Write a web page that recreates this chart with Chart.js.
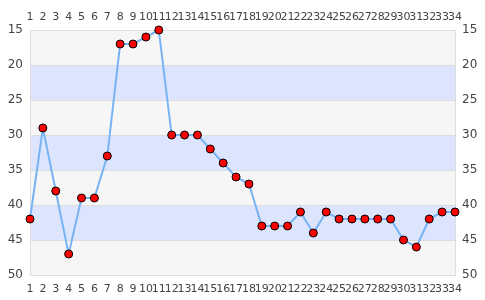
<!DOCTYPE html>
<html>
<head>
<meta charset="utf-8">
<script src="https://cdn.jsdelivr.net/npm/chart.js@4"></script>
<style>
  html, body { margin: 0; padding: 0; background: #fff; }
  #wrap { width: 485px; height: 300px; }
</style>
</head>
<body>
<div id="wrap"><canvas id="chart"></canvas></div>
<script>
const categories = ['1','2','3','4','5','6','7','8','9','10','11','12','13','14','15','16','17',
    '18','19','20','21','22','23','24','25','26','27','28','29','30','31','32','33','34'];
const values = [42, 29, 38, 47, 39, 39, 33, 17, 17, 16, 15, 30, 30, 30, 32, 34, 36,
    37, 43, 43, 43, 41, 44, 41, 42, 42, 42, 42, 42, 45, 46, 42, 41, 41];
const yMin = 15;
const yMax = 50;
const bandStep = 5;

// alternating background bands, drawn from the y scale
const bandPlugin = {
    id: 'bands',
    beforeDraw(chart) {
        const { ctx, chartArea } = chart;
        const y = chart.scales.y;
        ctx.save();
        let i = 0;
        for (let v = yMin; v < yMax; v += bandStep) {
            const top = y.getPixelForValue(v);
            const bottom = y.getPixelForValue(v + bandStep);
            ctx.fillStyle = i % 2 === 0 ? '#f6f6f6' : '#dde4fe';
            ctx.fillRect(chartArea.left, top, chartArea.right - chartArea.left, bottom - top);
            i++;
        }
        ctx.restore();
    }
};

const tickFont = { family: 'DejaVu Sans', size: 11 };
const tickColor = '#444';

const ctx = document.getElementById('chart').getContext('2d');
new Chart(ctx, {
    type: 'line',
    data: {
        labels: categories,
        datasets: [{
            data: values,
            borderColor: '#78b4f4',
            borderWidth: 2,
            pointBackgroundColor: '#ff0000',
            pointBorderColor: '#000',
            pointBorderWidth: 1,
            pointRadius: 4,
            tension: 0,
            clip: false,
        }]
    },
    plugins: [bandPlugin],
    options: {
        responsive: true,
        maintainAspectRatio: false,
        animation: false,
        layout: { padding: 0 },
        plugins: { legend: { display: false }, tooltip: { enabled: false } },
        scales: {
            x: {
                position: 'bottom',
                offset: false,
                grid: { drawOnChartArea: false, drawTicks: false },
                border: { color: '#ddd' },
                ticks: { autoSkip: false, maxRotation: 0, font: tickFont, color: tickColor, padding: 8 },
                afterFit(s) { s.height = 25; }
            },
            x2: {
                position: 'top',
                type: 'category',
                labels: categories,
                offset: false,
                grid: { drawOnChartArea: false, drawTicks: false },
                border: { color: '#ddd' },
                ticks: { autoSkip: false, maxRotation: 0, font: tickFont, color: tickColor, padding: 6 },
                afterFit(s) { s.height = 30; }
            },
            y: {
                position: 'left',
                reverse: true,
                min: yMin,
                max: yMax,
                ticks: { stepSize: bandStep, font: { family: 'DejaVu Sans', size: 12 }, color: tickColor, padding: 7 },
                grid: { color: '#dcdcdc', drawTicks: false },
                border: { color: '#ddd' },
                afterFit(s) { s.width = 30; }
            },
            y2: {
                position: 'right',
                reverse: true,
                min: yMin,
                max: yMax,
                ticks: { stepSize: bandStep, font: { family: 'DejaVu Sans', size: 12 }, color: tickColor, padding: 7 },
                grid: { drawOnChartArea: false, drawTicks: false },
                border: { color: '#ddd' },
                afterFit(s) { s.width = 30; }
            }
        }
    }
});
</script>
</body>
</html>
